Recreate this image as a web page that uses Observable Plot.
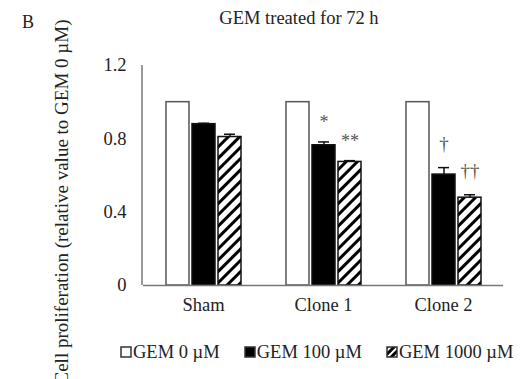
<!DOCTYPE html>
<html><head><meta charset="utf-8">
<script src="https://cdn.jsdelivr.net/npm/d3@7"></script>
<script src="https://cdn.jsdelivr.net/npm/@observablehq/plot@0.6"></script>
<style>
body{margin:0;background:#fff;}
#wrap{position:relative;width:522px;height:379px;overflow:hidden;font-family:"Liberation Serif","Times New Roman",serif;color:#222;}
#wrap svg.plot{position:absolute;left:0;top:0;}
.title{position:absolute;left:0;width:598px;top:6px;text-align:center;font-size:18.5px;line-height:24px;}
.panel{position:absolute;left:22px;top:10px;font-size:18px;line-height:24px;}
.ylab{position:absolute;width:420px;left:-148px;top:190px;height:24px;line-height:24px;text-align:center;font-size:19px;transform:rotate(-90deg);white-space:nowrap;}
.legend{position:absolute;left:120px;top:340px;display:flex;gap:24px;font-size:18.5px;line-height:24px;white-space:nowrap;}
.legend span.item{display:flex;align-items:center;}
.legend svg{margin-right:1px;}
</style></head><body><div id="wrap"></div>
<script>
const groups = ["Sham", "Clone 1", "Clone 2"];
const doses = ["GEM 0 µM", "GEM 100 µM", "GEM 1000 µM"];
const mean0 = [1.0, 1.0, 1.0];
const mean100 = [0.88, 0.765, 0.605];
const mean1000 = [0.81, 0.674, 0.479];
const err0 = [0, 0, 0];
const err100 = [0.005, 0.018, 0.038];
const err1000 = [0.015, 0.007, 0.016];
const sig100 = ["", "*", "†"];
const sig1000 = ["", "**", "††"];
const yTicks = [0, 0.4, 0.8, 1.2];
const titleText = "GEM treated for 72 h";
const yLabel = "Cell proliferation (relative value to GEM 0 µM)";

const serif = '"Liberation Serif", "Times New Roman", serif';
const means = [mean0, mean100, mean1000];
const errs = [err0, err100, err1000];
const sigs = [groups.map(() => ""), sig100, sig1000];
const data = [];
groups.forEach((g, i) => doses.forEach((d, j) => data.push({
  group: g, dose: d, value: means[j][i], err: errs[j][i], sig: sigs[j][i]
})));
const withErr = data.filter(d => d.err > 0);
const stars = data.filter(d => d.sig && d.sig.includes("*"));
const daggers = data.filter(d => d.sig && d.sig.includes("†"));

const chart = Plot.plot({
  width: 522, height: 379,
  marginLeft: 142, marginRight: 19, marginTop: 65, marginBottom: 94,
  style: {fontFamily: serif, fontSize: "18px", color: "#222", background: "transparent"},
  fx: {domain: groups, padding: 0, paddingOuter: 0, label: null, axis: null},
  x: {domain: doses, padding: 0.13, paddingOuter: 0.83, axis: null},
  y: {domain: [0, 1.2], axis: null},
  color: {domain: doses, range: ["white", "black", "url(#hatch)"]},
  marks: [
    Plot.axisY({ticks: yTicks, tickSize: 0, tickPadding: 17, tickFormat: d => String(d), label: null, fontSize: 18.5, fontFamily: serif}),
    Plot.axisFx({anchor: "bottom", tickSize: 0, tickPadding: 12, label: null, fontSize: 18.5, fontFamily: serif}),
    Plot.barY(data, {fx: "group", x: "dose", y: "value", fill: "dose",
      stroke: d => d.dose === doses[0] ? "#555" : "#111", strokeWidth: 1.5}),
    Plot.ruleY([0], {stroke: "#777", strokeWidth: 1.5}),
    Plot.ruleX(withErr, {fx: "group", x: "dose", y1: "value", y2: d => d.value + d.err, stroke: "#111", strokeWidth: 1.5}),
    Plot.tickY(withErr, {fx: "group", x: "dose", y: d => d.value + d.err, stroke: "#111", strokeWidth: 1.5, insetLeft: 6, insetRight: 6}),
    Plot.text(stars, {fx: "group", x: "dose", y: d => d.value + d.err, text: "sig", dy: -14, lineAnchor: "bottom", fontSize: 18, fontFamily: serif, fill: "#555"}),
    Plot.text(daggers, {fx: "group", x: "dose", y: d => d.value + d.err, text: "sig", dy: -18, lineAnchor: "bottom", fontSize: 19, fontFamily: serif, fill: "#555"})
  ]
});

// hatch pattern definition
const defs = d3.select(chart).insert("defs", ":first-child");
const pat = defs.append("pattern").attr("id", "hatch").attr("width", 8).attr("height", 8)
  .attr("patternUnits", "userSpaceOnUse").attr("patternTransform", "rotate(45)");
pat.append("rect").attr("width", 8).attr("height", 8).attr("fill", "white");
pat.append("rect").attr("width", 3).attr("height", 8).attr("fill", "black");

// y-axis line along the left edge of the frame, from the y scale
const ys = chart.scale("y");
d3.select(chart).append("line")
  .attr("x1", 142).attr("x2", 142)
  .attr("y1", ys.apply(ys.domain[0])).attr("y2", ys.apply(ys.domain[1]))
  .attr("stroke", "#777").attr("stroke-width", 1.5);

const wrap = document.getElementById("wrap");
chart.classList.add("plot");
wrap.appendChild(chart);

const t = document.createElement("div"); t.className = "title"; t.textContent = titleText; wrap.appendChild(t);
const p = document.createElement("div"); p.className = "panel"; p.textContent = "B"; wrap.appendChild(p);
const yl = document.createElement("div"); yl.className = "ylab"; yl.textContent = yLabel; wrap.appendChild(yl);

const leg = document.createElement("div"); leg.className = "legend";
const swFill = ["white", "black", "url(#hatchL)"];
doses.forEach((d, j) => {
  const item = document.createElement("span"); item.className = "item";
  item.innerHTML = `<svg width="12" height="12">${j === 2 ? '<defs><pattern id="hatchL" width="5" height="5" patternUnits="userSpaceOnUse" patternTransform="rotate(45)"><rect width="5" height="5" fill="white"/><rect width="3" height="5" fill="black"/></pattern></defs>' : ''}<rect x="1" y="1" width="10" height="10" fill="${swFill[j]}" stroke="#333" stroke-width="1.5"/></svg>`;
  item.appendChild(document.createTextNode(d));
  leg.appendChild(item);
});
wrap.appendChild(leg);
</script>
</body></html>
